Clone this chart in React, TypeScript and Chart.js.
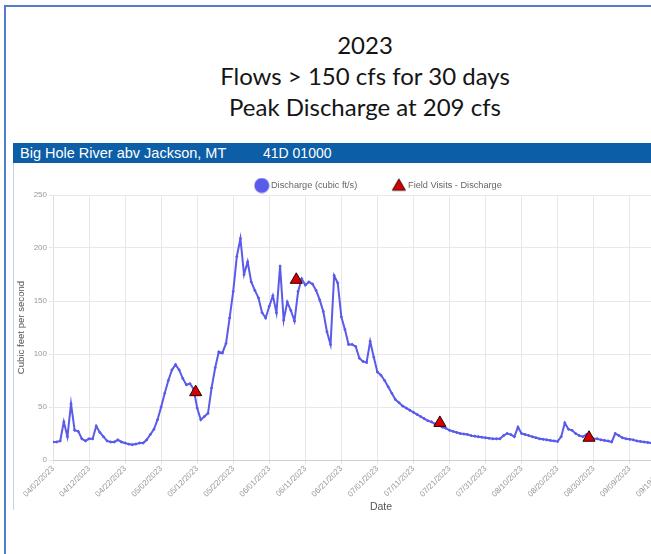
import { useEffect, useRef } from "react";
import { Chart, registerables } from "chart.js";
Chart.register(...registerables);

const titleLines = ["2023", "Flows > 150 cfs for 30 days", "Peak Discharge at 209 cfs"];
const headerName = "Big Hole River abv Jackson, MT";
const headerCode = "41D 01000";
const seriesLabel = "Discharge (cubic ft/s)";
const visitsLabel = "Field Visits - Discharge";
const yTitle = "Cubic feet per second";
const xTitle = "Date";

const startDate = "2023-04-02";
// daily discharge, cfs, from 04/02/2023
const dischargeCfs = [
  17, 17, 18, 36, 22, 53, 28, 27, 20, 18,
  20, 20, 32, 26, 22, 18, 17, 17, 19, 17,
  16, 15, 14.5, 15, 16, 16, 19, 24, 29, 38,
  50, 63, 75, 85, 90, 85, 77, 71, 72, 67,
  49, 38, 41, 44, 68, 87, 102, 101, 110, 134,
  159, 192, 209, 175, 187, 168, 160, 153, 139, 134,
  145, 155, 139, 183, 132, 149, 141, 131, 159, 171,
  165, 168, 166, 160, 151, 140, 121, 109, 174, 167,
  135, 123, 109, 109, 107, 96, 93, 92, 112, 97,
  83, 80, 75, 69, 63, 57, 54, 51, 49, 47,
  45, 43, 41, 39, 37, 36, 34, 33, 31, 30,
  28, 27, 26, 25, 24.5, 24, 23, 22.5, 22, 21.5,
  21, 20.5, 20, 20, 20, 23, 25, 24, 22, 31,
  25, 24, 23, 22, 21, 20, 19.5, 19, 18.5, 18,
  17.5, 22, 35, 29, 28, 25, 23, 22, 24, 22,
  20, 20, 19, 18.5, 18, 17, 25, 23, 21, 20,
  19.5, 19, 18, 17.5, 17, 16.5, 16, 16, 16, 15.5,
  15.5,
];
const fieldVisitTimes = ["2023-05-11T14:00", "2023-06-08T12:00", "2023-07-18T08:00", "2023-08-28T17:00"];
const fieldVisitCfs = [64, 170, 35, 21];
const xTickLabels = [
  "04/02/2023", "04/12/2023", "04/22/2023", "05/02/2023", "05/12/2023", "05/22/2023",
  "06/01/2023", "06/11/2023", "06/21/2023", "07/01/2023", "07/11/2023", "07/21/2023",
  "07/31/2023", "08/10/2023", "08/20/2023", "08/30/2023", "09/09/2023", "09/19/2023", "09/29/2023",
];
const xAxisEnd = "2023-10-01";
const yTicks = [0, 50, 100, 150, 200, 250];

const DAY = 86400000;
const t0 = Date.parse(startDate + "T00:00:00Z");
const dayOf = (iso: string) => (Date.parse((iso.length > 10 ? iso : iso + "T00:00") + ":00Z") - t0) / DAY;
const dayOfLabel = (lbl: string) => {
  const [m, d, y] = lbl.split("/");
  return dayOf(`${y}-${m}-${d}`);
};

const FONT = "'Liberation Sans', Arial, sans-serif";
const LINE_COLOR = "#5a5aeb";
const VISIT_COLOR = "#d50000";
const LEGEND_FONT = 9.2;
const LEGEND_PAD = 37;

function makeIcon(kind: "circle" | "triangle") {
  const c = document.createElement("canvas");
  c.width = 16;
  c.height = 16;
  const g = c.getContext("2d")!;
  const r = 7.5;
  g.beginPath();
  if (kind === "circle") {
    g.arc(8, 8, r, 0, Math.PI * 2);
    g.fillStyle = LINE_COLOR;
    g.fill();
  } else {
    const h = Math.sin(Math.PI / 3) * r;
    g.moveTo(8, 8 - r + 1);
    g.lineTo(8 + h, 8 + r / 2 + 1);
    g.lineTo(8 - h, 8 + r / 2 + 1);
    g.closePath();
    g.fillStyle = VISIT_COLOR;
    g.fill();
    g.lineWidth = 1;
    g.strokeStyle = "#2a0000";
    g.stroke();
  }
  return c;
}

export default function App() {
  const ref = useRef<HTMLCanvasElement | null>(null);
  useEffect(() => {
    if (!ref.current) return;
    const tickDays = xTickLabels.map(dayOfLabel);
    const icons = [makeIcon("circle"), makeIcon("triangle")];
    const legendFix = {
      id: "legendFix",
      beforeLayout(chart: any) {
        const lg = chart.legend;
        if (lg && !lg._patched) {
          const o = lg.fit.bind(lg);
          lg.fit = () => {
            o();
            lg.height = 33;
          };
          lg._patched = true;
        }
      },
      afterLayout(chart: any) {
        const lg = chart.legend;
        if (lg) lg.top = 23.5 - LEGEND_PAD - LEGEND_FONT / 2;
      },
    };
    const chart = new Chart(ref.current, {
      type: "line",
      data: {
        datasets: [
          {
            label: seriesLabel,
            data: dischargeCfs.map((v, i) => ({ x: i, y: v })),
            borderColor: LINE_COLOR,
            backgroundColor: LINE_COLOR,
            borderWidth: 2,
            pointRadius: 1,
            pointBorderWidth: 1,
            pointStyle: "circle",
            tension: 0,
            order: 1,
          },
          {
            label: visitsLabel,
            data: fieldVisitTimes.map((t, i) => ({ x: dayOf(t), y: fieldVisitCfs[i] })),
            showLine: false,
            pointStyle: "triangle",
            pointRadius: 7,
            backgroundColor: VISIT_COLOR,
            borderColor: "#2a0000",
            borderWidth: 1,
            order: 0,
          },
        ],
      },
      options: {
        animation: false,
        responsive: false,
        layout: { padding: 0 },
        plugins: {
          tooltip: { enabled: false },
          legend: {
            labels: {
              usePointStyle: true,
              font: { family: FONT, size: LEGEND_FONT },
              color: "#666",
              padding: LEGEND_PAD,
              sort: (a: any, b: any) => a.datasetIndex - b.datasetIndex,
              generateLabels: (ch: any) => {
                const items = (Chart.defaults.plugins.legend.labels as any).generateLabels(ch);
                items.forEach((it: any) => {
                  it.pointStyle = icons[it.datasetIndex] || it.pointStyle;
                });
                return items;
              },
            },
          },
        },
        scales: {
          x: {
            type: "linear",
            min: 0,
            max: dayOf(xAxisEnd),
            afterBuildTicks: (s: any) => {
              s.ticks = tickDays.map((v) => ({ value: v }));
            },
            afterFit: (s: any) => {
              s.height = 57;
            },
            ticks: {
              autoSkip: false,
              maxRotation: 45,
              minRotation: 45,
              padding: 0,
              font: { family: FONT, size: 8 },
              color: "#999",
              callback: (v: any) => {
                const i = tickDays.indexOf(v);
                return i >= 0 ? xTickLabels[i] : "";
              },
            },
            grid: { color: "#e7e7ec", tickLength: 4 },
            border: { color: "#cfcfcf" },
            title: {
              display: true,
              text: xTitle,
              font: { family: FONT, size: 10.5 },
              color: "#555",
              padding: { top: 0, bottom: 4 },
            },
          },
          y: {
            min: 0,
            max: 250,
            afterBuildTicks: (s: any) => {
              s.ticks = yTicks.map((v) => ({ value: v }));
            },
            afterFit: (s: any) => {
              s.width = 39;
            },
            ticks: {
              padding: 2,
              font: { family: FONT, size: 8 },
              color: "#999",
            },
            grid: { color: "#e7e7ec", tickLength: 4 },
            border: { color: "#e0e0e0" },
            title: {
              display: true,
              text: yTitle,
              font: { family: FONT, size: 9.6 },
              color: "#555",
              padding: { top: 1.5, bottom: 0 },
            },
          },
          yRight: {
            type: "linear",
            position: "right",
            display: true,
            grid: { display: false },
            border: { display: false },
            ticks: { display: false },
            afterFit: (s: any) => {
              s.width = 36;
            },
          },
        },
      } as any,
      plugins: [legendFix],
    });
    return () => chart.destroy();
  }, []);

  return (
    <div style={{ position: "fixed", left: 0, top: 0, width: 651, height: 554, overflow: "hidden", background: "#fff" }}>
      <div
        style={{
          position: "absolute",
          left: 4,
          top: 5,
          width: 900,
          height: 900,
          borderLeft: "2px solid #4f7fc9",
          borderTop: "2px solid #4f7fc9",
        }}
      />
      <div
        style={{
          position: "absolute",
          left: 0,
          top: 29,
          width: 730,
          textAlign: "center",
          fontFamily: "Lato, 'Open Sans', sans-serif",
          fontSize: 24,
          lineHeight: "31px",
          color: "#151515",
        }}
      >
        {titleLines.map((t) => (
          <div key={t}>{t}</div>
        ))}
      </div>
      <div
        style={{
          position: "absolute",
          left: 13,
          top: 143,
          width: 720,
          height: 20,
          background: "#0c5ea6",
          color: "#fff",
          fontFamily: FONT,
          lineHeight: "20px",
        }}
      >
        <span style={{ position: "absolute", left: 7, fontSize: 14.5 }}>{headerName}</span>
        <span style={{ position: "absolute", left: 250, fontSize: 14 }}>{headerCode}</span>
      </div>
      <div style={{ position: "absolute", left: 13, top: 163, width: 1, height: 347, background: "#c3d3e3" }} />
      <canvas
        ref={ref}
        width={731}
        height={355}
        style={{ position: "absolute", left: 14, top: 162, width: 731, height: 355 }}
      />
    </div>
  );
}
